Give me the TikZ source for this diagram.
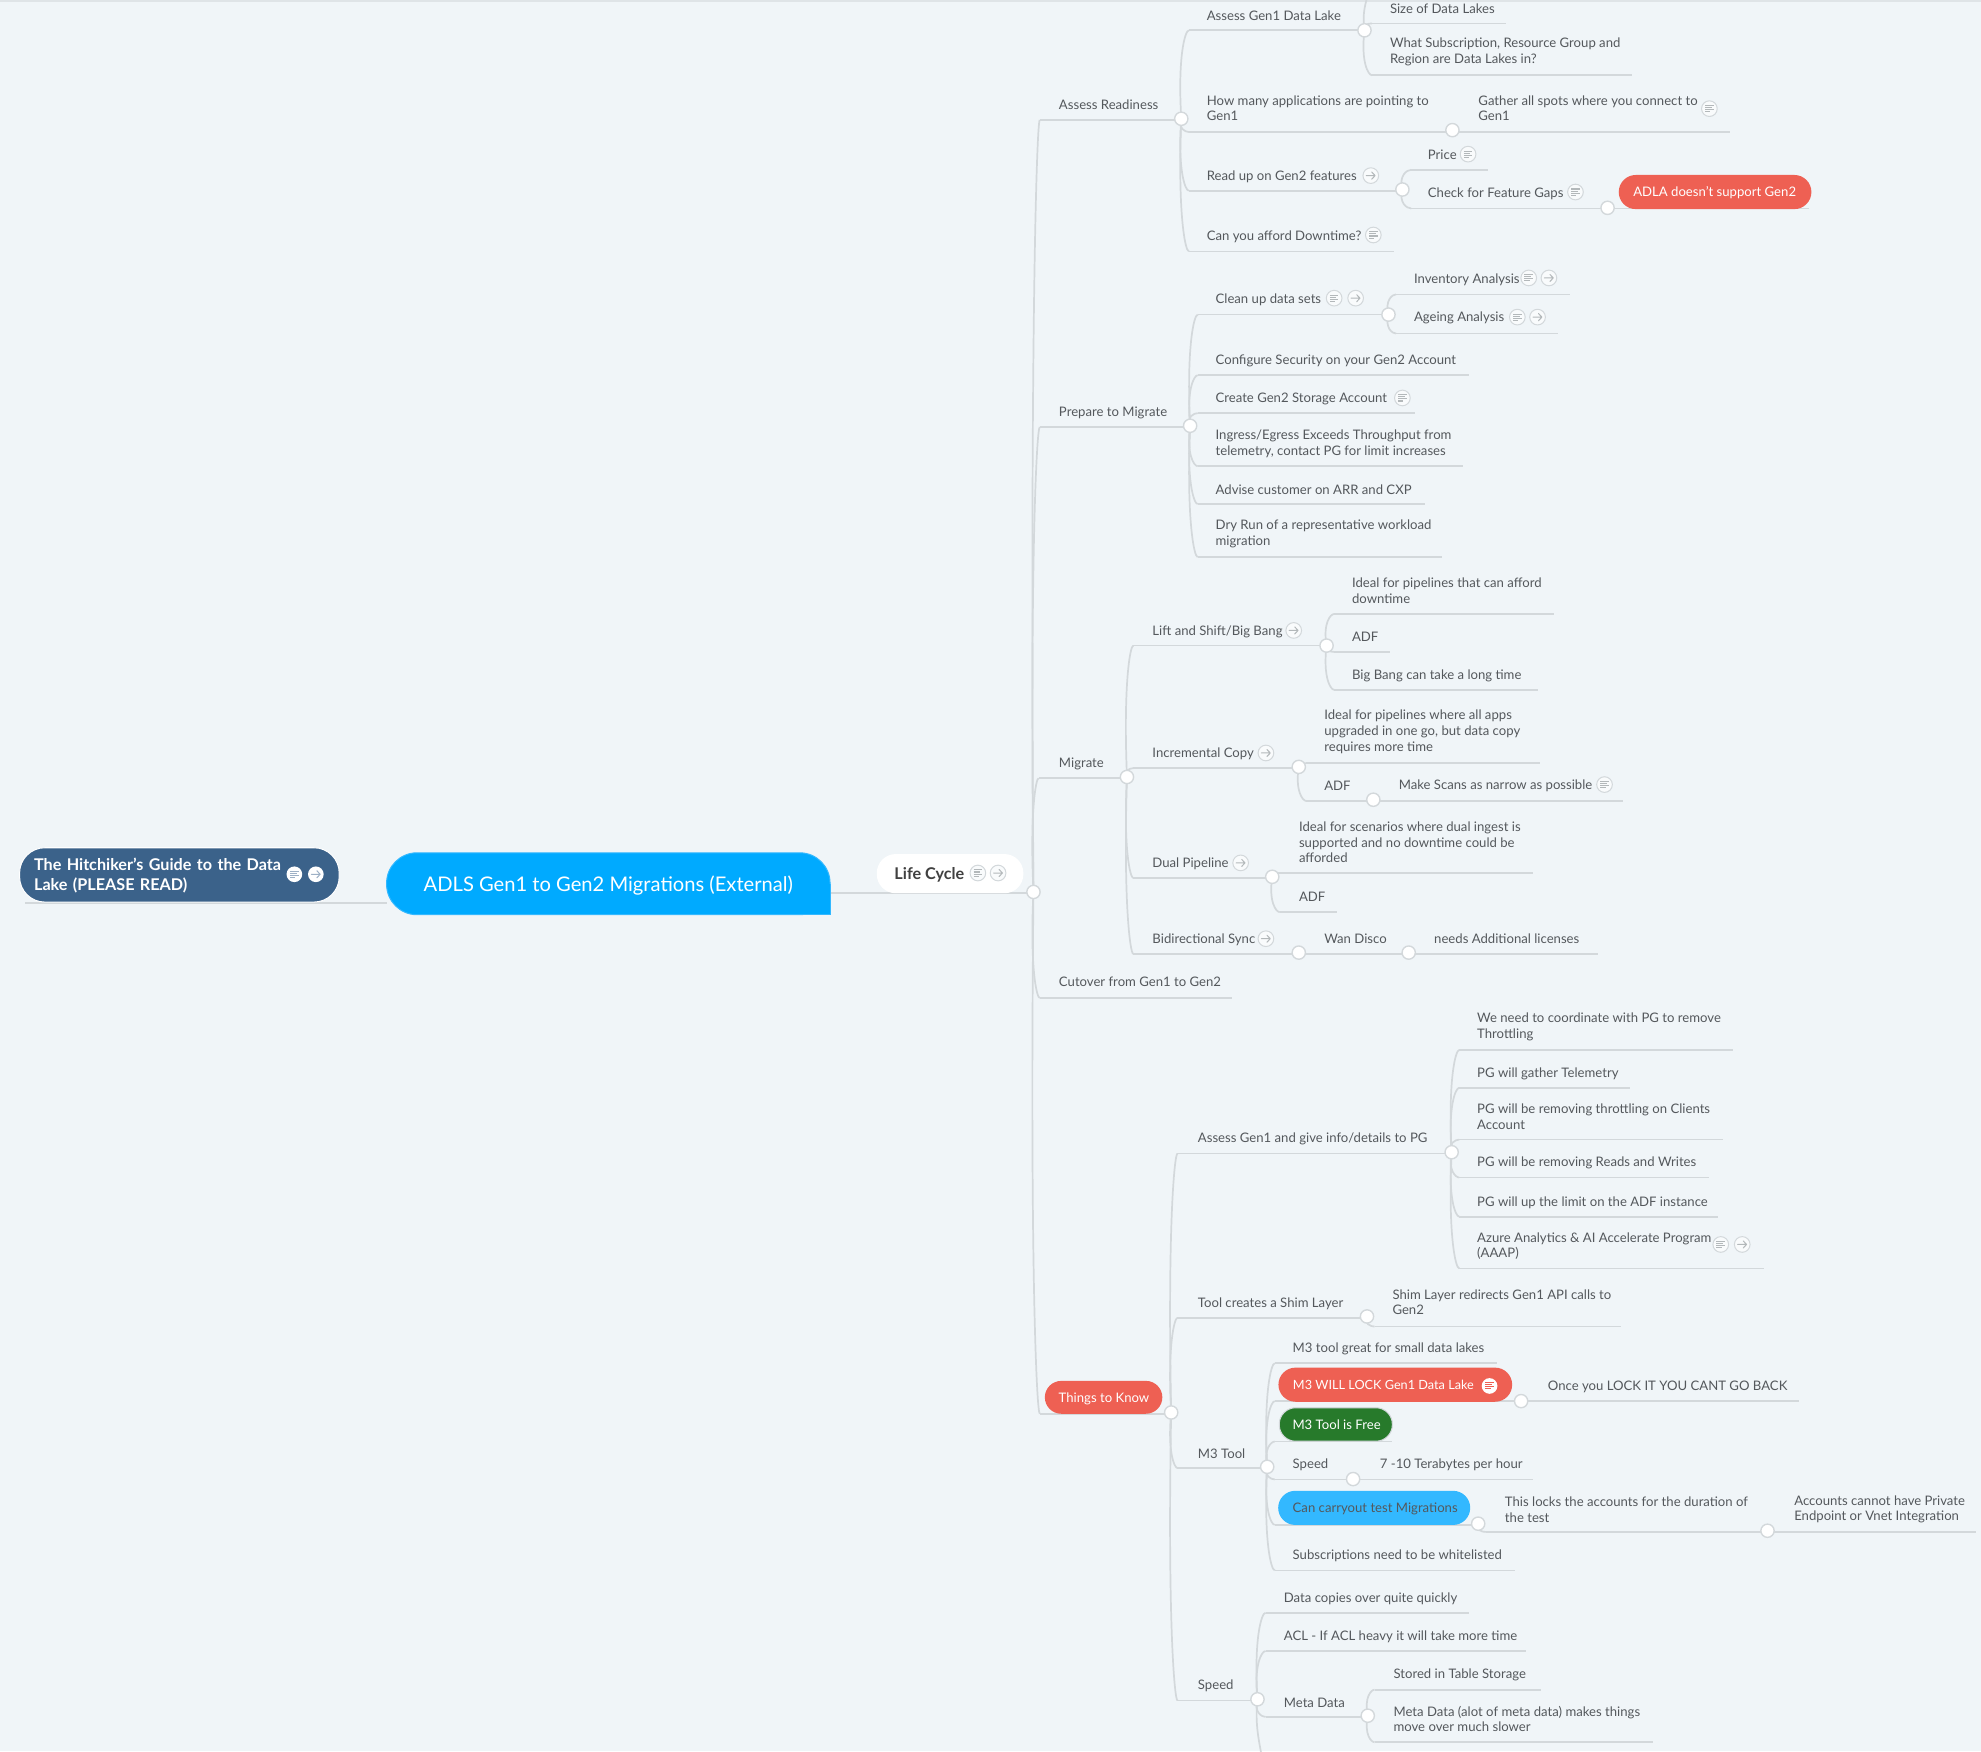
\documentclass[tikz,border=0pt]{standalone}
\usepackage{fontspec}
\setmainfont{Lato}
\usetikzlibrary{calc}
\pgfdeclarelayer{bg}
\pgfsetlayers{bg,main}
\definecolor{bgc}{HTML}{F0F5F8}
\definecolor{linec}{HTML}{D3D8DB}
\definecolor{txtc}{HTML}{54585C}
\definecolor{redc}{HTML}{EE6053}
\definecolor{navyc}{HTML}{3B628A}
\definecolor{bluec}{HTML}{00AAFF}
\definecolor{lblue}{HTML}{33B8FF}
\definecolor{greenc}{HTML}{277A2B}
\tikzset{
  conn/.style={draw=linec,line width=1.35pt},
  txt/.style={anchor=west,inner sep=0pt,align=left,text=txtc,font=\fontsize{10.4}{12.4}\selectfont},
  knob/.style={circle,draw=linec,fill=white,line width=1.1pt,inner sep=0pt,minimum size=10.5pt},
  pill/.style={rectangle,inner xsep=11.5pt,inner ysep=0pt,align=left,text=white,text height=9pt,text depth=1.4pt,font=\fontsize{10.4}{12.4}\selectfont},
  icring/.style={draw=linec,fill=white!60!bgc,line width=0.8pt},
  iclin/.style={draw=linec!85!black,line width=0.8pt},
  noteic/.pic={\path[icring] (0,0) circle (6.2);
    \draw[iclin] (-3.4,-2.4)--(3.4,-2.4) (-3.4,-0.8)--(1.8,-0.8) (-3.4,0.8)--(3.4,0.8) (-3.4,2.4)--(0.8,2.4);},
  arrowic/.pic={\path[icring] (0,0) circle (6.2);
    \draw[iclin,line cap=round,line join=round] (-3.6,0)--(3.4,0) (0.8,-2.8)--(3.4,0)--(0.8,2.8);},
}
\newcommand{\mmT}[4]{\node[txt] (#1) at (#2,{#3+0.7}) {#4};}
\newcommand{\mmK}[3]{\node[knob] (#1) at (#2,#3) {};}
\newcommand{\mmU}[4]{\coordinate (#1s) at (#2,#4);\coordinate (#1e) at (#3,#4);
  \begin{pgfonlayer}{bg}\draw[conn] (#1s)--(#1e);\end{pgfonlayer}}
\newcommand{\mmB}[2]{\begin{pgfonlayer}{bg}\draw[conn] (#1.center) .. controls ($(#1.center)!.7!(#1.center|-#2s)+(-3,0)$) and ($(#1.center|-#2s)!.5!(#2s)$) .. (#2s);\end{pgfonlayer}}
\newcommand{\mmN}[2]{\pic at (#1,#2) {noteic};}
\newcommand{\mmA}[2]{\pic at (#1,#2) {arrowic};}
\begin{document}
\begin{tikzpicture}[x=1pt,y=-1pt]
\useasboundingbox (0,0) rectangle (1568,1386);
\begin{pgfonlayer}{bg}
\fill[bgc] (0,0) rectangle (1568,1386);
\fill[linec!60!bgc] (0,0) rectangle (1568,1.5);
\end{pgfonlayer}
% root and centre
\mmU{ro}{20}{306}{715}
\node[pill,fill=navyc,draw=white,line width=0.8pt,rounded corners=20,minimum height=43pt,text width=230pt,text height=,text depth=,font=\bfseries\fontsize{12.8}{16}\selectfont] (root) at (142,692.5) {\rule{0pt}{11.3pt}The Hitchiker's Guide to the Data\\Lake (PLEASE READ)};
\begin{scope}[icring/.style={fill=white,draw=none},iclin/.style={draw=navyc!50!white,line width=0.8pt}]
\mmN{233}{692}\mmA{250}{692}
\end{scope}
\node[rectangle,fill=bluec,draw=lblue,line width=0.8pt,rounded corners=24,minimum width=351pt,minimum height=49pt,inner sep=0pt,text=white,text height=14pt,text depth=2.4pt,font=\fontsize{15.95}{18}\selectfont] (ctr) at (481.5,699.5) {ADLS Gen1 to Gen2 Migrations (External)};
\fill[bluec] (630,700) rectangle (656.6,723.6);
\draw[lblue,line width=0.8pt] (630,724) -- (657,724) -- (657,700);
\mmU{lc}{657}{818}{707}
\node[pill,fill=white,text=black!75,rounded corners=15,minimum height=31pt,inner xsep=14pt,text height=10pt,text depth=1.4pt,font=\bfseries\fontsize{12.8}{14}\selectfont] (life) at (752,691.5) {\makebox[88pt][l]{Life Cycle}};
\mmN{774}{691}\mmA{790}{691}
\mmK{k0}{818}{706}
% Assess Readiness
\mmT{ar}{838}{82}{Assess Readiness}\mmU{ar}{823}{935}{95}\mmB{k0}{ar}
\mmK{k1}{935}{94}
\mmT{ag}{955}{12}{Assess Gen1 Data Lake}\mmU{ag}{941}{1080}{24}\mmB{k1}{ag}
\mmK{k2}{1080}{24}
\coordinate (upt) at (1083,-6);
\begin{pgfonlayer}{bg}\draw[conn] (k2.center) .. controls (1078,10) and (1081,3) .. (upt);\end{pgfonlayer}
\mmT{sd}{1100}{6}{Size of Data Lakes}\mmU{sd}{1086}{1192}{18.5}\mmB{k2}{sd}
\mmT{ws}{1100}{40.5}{What Subscription, Resource Group and\\Region are Data Lakes in?}\mmU{ws}{1086}{1292}{59.6}\mmB{k2}{ws}
\mmT{hm}{955}{85}{How many applications are pointing to\\Gen1}\mmU{hm}{941}{1149}{104.5}\mmB{k1}{hm}
\mmK{k3}{1149.6}{103}
\mmT{gs}{1170}{85}{Gather all spots where you connect to\\Gen1}\mmU{gs}{1149.6}{1369}{104.5}\mmN{1353}{86}
\mmT{ru}{955}{139}{Read up on Gen2 features}\mmU{ru}{941}{1110}{151}\mmB{k1}{ru}\mmA{1085}{139}
\mmK{k4}{1110}{150}
\mmT{pr}{1130}{122}{Price}\mmU{pr}{1117}{1178}{134.4}\mmB{k4}{pr}\mmN{1162}{122}
\mmT{cf}{1130}{152.5}{Check for Feature Gaps}\mmU{cf}{1117}{1272.4}{165}\mmB{k4}{cf}\mmN{1247}{152}
\mmK{k5}{1272.4}{164.5}
\mmU{ad}{1272.4}{1432}{165}
\node[pill,fill=redc,rounded corners=13.5,minimum height=27pt] (adla) at (1357.5,152) {\makebox[129.5pt][l]{ADLA doesn't support Gen2}};
\mmT{cd}{955}{186.5}{Can you afford Downtime?}\mmU{cd}{941}{1103}{199}\mmB{k1}{cd}\mmN{1087}{186}
% Prepare to Migrate
\mmT{pm}{838}{326}{Prepare to Migrate}\mmU{pm}{823}{942}{338}\mmB{k0}{pm}
\mmK{k6}{942}{337}
\mmT{cu}{962}{236.5}{Clean up data sets}\mmU{cu}{948}{1099}{249}\mmB{k6}{cu}\mmN{1056}{236}\mmA{1073}{236}
\mmK{k7}{1099}{249}
\mmT{ia}{1119}{220.5}{Inventory Analysis}\mmU{ia}{1105}{1243}{233}\mmB{k7}{ia}\mmN{1210}{220}\mmA{1226}{220}
\mmT{aa}{1119}{251}{Ageing Analysis}\mmU{aa}{1105}{1233}{264}\mmB{k7}{aa}\mmN{1201}{251}\mmA{1217}{251}
\mmT{cs}{962}{285}{Configure Security on your Gen2 Account}\mmU{cs}{948}{1163}{297}\mmB{k6}{cs}
\mmT{cg}{962}{315}{Create Gen2 Storage Account}\mmU{cg}{948}{1120}{327}\mmB{k6}{cg}\mmN{1110}{315}
\mmT{ie}{962}{350.5}{Ingress/Egress Exceeds Throughput from\\telemetry, contact PG for limit increases}\mmU{ie}{948}{1158}{369}\mmB{k6}{ie}
\mmT{ac}{962}{387}{Advise customer on ARR and CXP}\mmU{ac}{948}{1128}{399}\mmB{k6}{ac}
\mmT{dr}{962}{422}{Dry Run of a representative workload\\migration}\mmU{dr}{948}{1141}{441}\mmB{k6}{dr}
% Migrate
\mmT{mg}{838}{604}{Migrate}\mmU{mg}{822}{892}{616}\mmB{k0}{mg}
\mmK{k8}{892}{615}
\mmT{ls}{912}{499.5}{Lift and Shift/Big Bang}\mmU{ls}{897}{1050}{511}\mmB{k8}{ls}\mmA{1024}{499}
\mmK{k9}{1050}{511}
\mmT{ip}{1070}{467}{Ideal for pipelines that can afford\\downtime}\mmU{ip}{1056}{1230}{486}\mmB{k9}{ip}
\mmT{af}{1070}{503}{ADF}\mmU{af}{1056}{1100}{516}\mmB{k9}{af}
\mmT{bb}{1070}{534}{Big Bang can take a long time}\mmU{bb}{1056}{1217}{546}\mmB{k9}{bb}
\mmT{ic}{912}{596}{Incremental Copy}\mmU{ic}{897}{1028}{608}\mmB{k8}{ic}\mmA{1002}{596}
\mmK{k10}{1028}{607}
\mmT{iw}{1048}{578.5}{Ideal for pipelines where all apps\\upgraded in one go, but data copy\\requires more time}\mmU{iw}{1034}{1219}{604}\mmB{k10}{iw}
\mmT{ag2}{1048}{621}{ADF}\mmU{ag2}{1034}{1087}{634}\mmB{k10}{ag2}
\mmK{k11}{1087}{633}
\mmT{ms}{1107}{621}{Make Scans as narrow as possible}\mmU{ms}{1087}{1285}{634}\mmN{1270}{621}
\mmT{dp}{912}{683}{Dual Pipeline}\mmU{dp}{897}{1007}{695}\mmB{k8}{dp}\mmA{982}{683}
\mmK{k12}{1007}{694}
\mmT{is}{1028}{666}{Ideal for scenarios where dual ingest is\\supported and no downtime could be\\afforded}\mmU{is}{1013}{1213}{691}\mmB{k12}{is}
\mmT{ad3}{1028}{709}{ADF}\mmU{ad3}{1013}{1058}{722}\mmB{k12}{ad3}
\mmT{bs}{912}{743}{Bidirectional Sync}\mmU{bs}{897}{1028}{755}\mmB{k8}{bs}\mmA{1002}{743}
\mmK{k13}{1028}{754}
\mmT{wd}{1048}{742.5}{Wan Disco}\mmU{wd}{1028}{1115}{755}
\mmK{k14}{1115}{754}
\mmT{na}{1135}{742.5}{needs Additional licenses}\mmU{na}{1115}{1265}{755}
% Cutover
\mmT{co}{838}{776}{Cutover from Gen1 to Gen2}\mmU{co}{823}{975}{790}\mmB{k0}{co}
% Things to Know
\mmU{tk}{823}{927}{1119}\mmB{k0}{tk}
\node[pill,fill=redc,rounded corners=13,minimum height=26pt,inner xsep=11pt] (tkn) at (873.5,1106) {\makebox[71pt][l]{Things to Know}};
\mmK{k15}{927}{1118}
\mmT{ap}{948}{901}{Assess Gen1 and give info/details to PG}\mmU{ap}{932}{1149}{913}\mmB{k15}{ap}
\mmK{k16}{1149}{912}
\mmT{wn}{1169}{812}{We need to coordinate with PG to remove\\Throttling}\mmU{wn}{1155}{1372}{831}\mmB{k16}{wn}
\mmT{pt}{1169}{849}{PG will gather Telemetry}\mmU{pt}{1155}{1290}{861}\mmB{k16}{pt}
\mmT{pc}{1169}{883}{PG will be removing throttling on Clients\\Account}\mmU{pc}{1155}{1364}{902}\mmB{k16}{pc}
\mmT{pw}{1169}{920}{PG will be removing Reads and Writes}\mmU{pw}{1155}{1353}{932}\mmB{k16}{pw}
\mmT{pl}{1169}{951}{PG will up the limit on the ADF instance}\mmU{pl}{1155}{1360}{963}\mmB{k16}{pl}
\mmT{az}{1169}{985.5}{Azure Analytics \& AI Accelerate Program\\(AAAP)}\mmU{az}{1155}{1396}{1004}\mmB{k16}{az}\mmN{1362}{985}\mmA{1379}{985}
\mmT{ts}{948}{1031}{Tool creates a Shim Layer}\mmU{ts}{932}{1082}{1043}\mmB{k15}{ts}
\mmK{k17}{1082}{1042}
\mmT{sl}{1102}{1030}{Shim Layer redirects Gen1 API calls to\\Gen2}\mmU{sl}{1088}{1283}{1050}\mmB{k17}{sl}
\mmT{m3}{948}{1150}{M3 Tool}\mmU{m3}{932}{1003}{1162}\mmB{k15}{m3}
\mmK{k18}{1003}{1161}
\mmT{mg1}{1023}{1067}{M3 tool great for small data lakes}\mmU{mg1}{1009}{1185}{1079}\mmB{k18}{mg1}
\mmU{ml}{1009}{1204}{1109}\mmB{k18}{ml}
\node[pill,fill=redc,rounded corners=13.5,minimum height=27pt,font=\fontsize{10.05}{12.4}\selectfont] (lock) at (1104.4,1096) {\makebox[162pt][l]{M3 WILL LOCK Gen1 Data Lake}};
\begin{scope}[icring/.style={fill=white,draw=none},iclin/.style={draw=redc,line width=0.8pt}]
\mmN{1179}{1097}
\end{scope}
\mmK{k19}{1204}{1109}
\mmT{oy}{1225}{1097}{Once you LOCK IT YOU CANT GO BACK}\mmU{oy}{1204}{1424}{1109}
\mmU{mf}{1009}{1102}{1141}\mmB{k18}{mf}
\node[pill,fill=greenc,draw=linec,line width=0.8pt,rounded corners=13,minimum height=26.5pt,inner xsep=10.5pt] (free) at (1057.3,1127.5) {\makebox[68.5pt][l]{M3 Tool is Free}};
\mmT{sp}{1023}{1159}{Speed}\mmU{sp}{1009}{1071}{1171}\mmB{k18}{sp}
\mmK{k20}{1071}{1170.7}
\mmT{tt}{1092}{1159}{7 -10 Terabytes per hour}\mmU{tt}{1071}{1213}{1171}
\mmU{ct}{1009}{1170}{1207}\mmB{k18}{ct}
\node[pill,fill=lblue,text=txtc,rounded corners=13.5,minimum height=27pt] (carry) at (1087.7,1193.5) {\makebox[129pt][l]{Can carryout test Migrations}};
\mmK{k21}{1170}{1206}
\mmT{tl}{1191}{1194}{This locks the accounts for the duration of\\the test}\mmU{tl}{1176}{1399}{1212.6}\mmB{k21}{tl}
\mmK{k22}{1399}{1211.6}
\mmT{ac2}{1420}{1194}{Accounts cannot have Private\\Endpoint or Vnet Integration}\mmU{ac2}{1399}{1563.7}{1212.6}
\mmT{sw}{1023}{1231}{Subscriptions need to be whitelisted}\mmU{sw}{1009}{1199}{1243}\mmB{k18}{sw}
\mmT{sd2}{948}{1334}{Speed}\mmU{sd2}{932}{995.3}{1346}\mmB{k15}{sd2}
\mmK{k23}{995.3}{1345}
\coordinate (dnt) at (999,1392);
\begin{pgfonlayer}{bg}\draw[conn] (k23.center) .. controls (993,1365) and (997,1380) .. (dnt);\end{pgfonlayer}
\mmT{dc}{1016}{1265}{Data copies over quite quickly}\mmU{dc}{1001.7}{1163}{1276.5}\mmB{k23}{dc}
\mmT{al}{1016}{1295}{ACL - If ACL heavy it will take more time}\mmU{al}{1001.7}{1208}{1306.8}\mmB{k23}{al}
\mmT{md}{1016}{1347}{Meta Data}\mmU{md}{1001.7}{1082.6}{1359}\mmB{k23}{md}
\mmK{k24}{1082.6}{1358}
\mmT{st}{1102.8}{1325}{Stored in Table Storage}\mmU{st}{1088}{1219.8}{1337.4}\mmB{k24}{st}
\mmT{mm}{1102.8}{1360}{Meta Data (alot of meta data) makes things\\move over much slower}\mmU{mm}{1088}{1308}{1379}\mmB{k24}{mm}
\end{tikzpicture}
\end{document}
